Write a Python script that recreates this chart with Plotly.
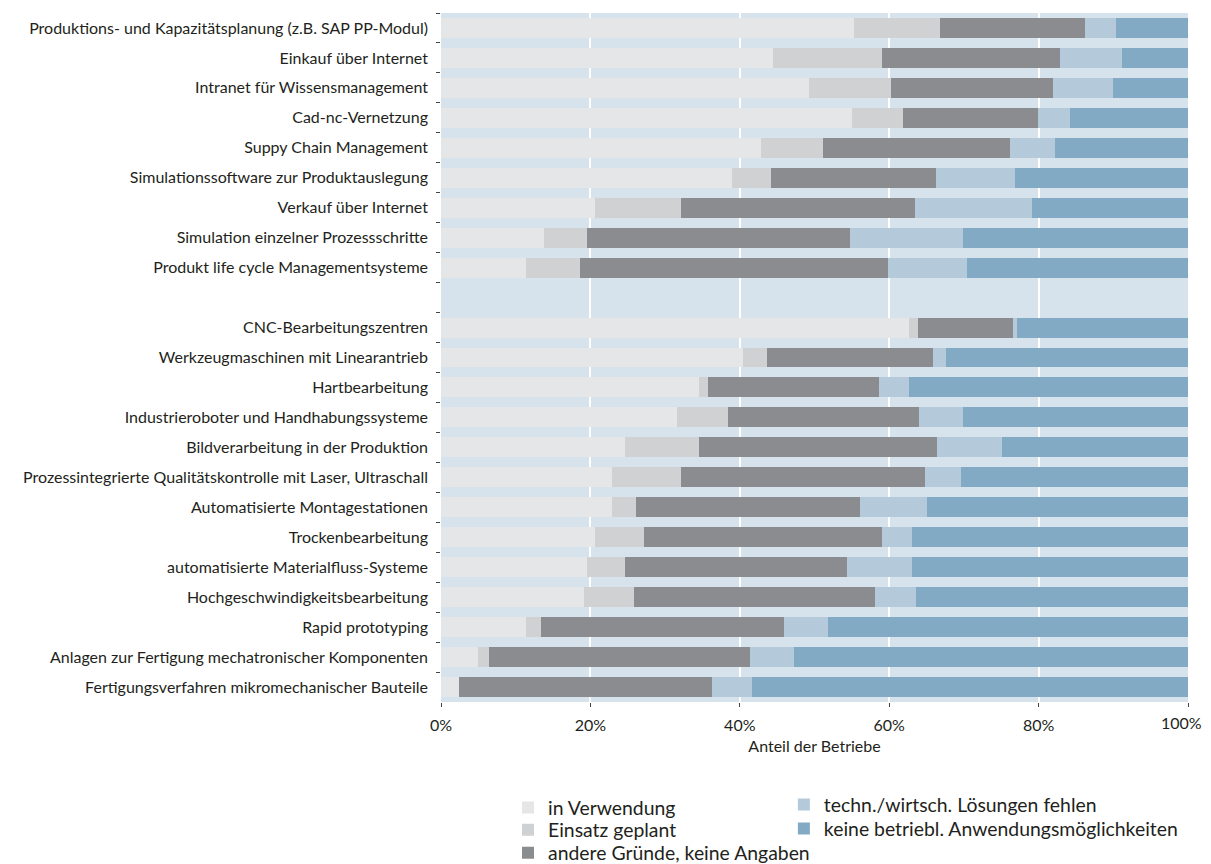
import plotly.graph_objects as go

categories = [
    "Produktions- und Kapazitätsplanung (z.B. SAP PP-Modul)",
    "Einkauf über Internet",
    "Intranet für Wissensmanagement",
    "Cad-nc-Vernetzung",
    "Suppy Chain Management",
    "Simulationssoftware zur Produktauslegung",
    "Verkauf über Internet",
    "Simulation einzelner Prozessschritte",
    "Produkt life cycle Managementsysteme",
    " ",
    "CNC-Bearbeitungszentren",
    "Werkzeugmaschinen mit Linearantrieb",
    "Hartbearbeitung",
    "Industrieroboter und Handhabungssysteme",
    "Bildverarbeitung in der Produktion",
    "Prozessintegrierte Qualitätskontrolle mit Laser, Ultraschall",
    "Automatisierte Montagestationen",
    "Trockenbearbeitung",
    "automatisierte Materialfluss-Systeme",
    "Hochgeschwindigkeitsbearbeitung",
    "Rapid prototyping",
    "Anlagen zur Fertigung mechatronischer Komponenten",
    "Fertigungsverfahren mikromechanischer Bauteile",
]

in_verwendung = [55.3, 44.4, 49.2, 55.0, 42.9, 39.0, 20.6, 13.8, 11.4, None,
                 62.6, 40.4, 34.6, 31.6, 24.6, 22.9, 22.9, 20.6, 19.6, 19.2, 11.4, 4.9, 2.4]
einsatz_geplant = [11.5, 14.7, 11.0, 6.9, 8.3, 5.2, 11.5, 5.8, 7.2, None,
                   1.3, 3.2, 1.2, 6.8, 10.0, 9.2, 3.2, 6.6, 5.0, 6.6, 2.0, 1.5, 0.0]
andere_gruende = [19.4, 23.7, 21.7, 18.0, 25.0, 22.0, 31.3, 35.1, 41.3, None,
                  12.7, 22.3, 22.9, 25.6, 31.8, 32.7, 30.0, 31.9, 29.7, 32.3, 32.5, 34.9, 33.9]
loesungen_fehlen = [4.1, 8.3, 8.0, 4.3, 6.0, 10.6, 15.7, 15.2, 10.5, None,
                    0.5, 1.7, 4.0, 5.9, 8.7, 4.8, 8.9, 3.9, 8.7, 5.5, 5.9, 6.0, 5.3]
keine_anwendung = [9.7, 8.9, 10.1, 15.8, 17.8, 23.2, 20.9, 30.1, 29.6, None,
                   22.9, 32.4, 37.3, 30.1, 24.9, 30.4, 35.0, 37.0, 37.0, 36.4, 48.2, 52.7, 58.4]

x_ticks = [0, 20, 40, 60, 80, 100]
x_ticklabels = ["0%", "20%", "40%", "60%", "80%", "100%"]

series_names = [
    "in Verwendung",
    "Einsatz geplant",
    "andere Gründe, keine Angaben",
    "techn./wirtsch. Lösungen fehlen",
    "keine betriebl. Anwendungsmöglichkeiten",
]
series_values = [in_verwendung, einsatz_geplant, andere_gruende,
                 loesungen_fehlen, keine_anwendung]
series_colors = ["#e5e6e8", "#d0d1d3", "#8b8c90", "#b4c9da", "#82aac4"]

# legend placement (paper coords): two columns
legend_pos = [(0.0897, -0.1538), (0.0897, -0.1858), (0.0897, -0.2192),
              (0.459, -0.1495), (0.459, -0.1843)]

FONT = "Lato, 'Open Sans', sans-serif"
TXT = "#231f20"

fig = go.Figure()
legend_ids = ["legend", "legend2", "legend3", "legend4", "legend5"]
for name, vals, color, lg in zip(series_names, series_values, series_colors, legend_ids):
    fig.add_trace(go.Bar(
        y=categories, x=vals, name=name, orientation="h",
        marker=dict(color=color, line=dict(width=0)),
        legend=lg, hoverinfo="x+y+name",
    ))

layout_legends = {}
for lg, (lx, ly) in zip(legend_ids, legend_pos):
    layout_legends[lg] = dict(
        x=lx, xanchor="left", y=ly, yanchor="middle",
        orientation="v", font=dict(size=19.4), bgcolor="rgba(0,0,0,0)",
        itemwidth=30,
    )

# axis tick labels; the last one is placed as an annotation nudged left so it
# stays inside the visible window edge
axis_ticktext = x_ticklabels[:-1] + [""]

fig.update_layout(
    barmode="stack",
    bargap=0.333,
    width=1203, height=856,
    margin=dict(l=433, r=23, t=5, b=162, autoexpand=False),
    plot_bgcolor="#d6e2ec",
    paper_bgcolor="white",
    font=dict(family=FONT, color=TXT, size=16),
    xaxis=dict(
        range=[0, 100], tickvals=x_ticks, ticktext=axis_ticktext,
        showgrid=True, gridcolor="white", gridwidth=2,
        ticks="outside", ticklen=4, tickcolor="#444", tickwidth=1,
        tickfont=dict(size=16), zeroline=False, showline=False,
        ticklabelstandoff=5,
        title=dict(text="Anteil der Betriebe", font=dict(size=16), standoff=7),
        automargin=False,
    ),
    yaxis=dict(
        categoryorder="array", categoryarray=categories, autorange="reversed",
        tickson="boundaries", ticks="outside", ticklen=4, tickcolor="#444",
        showgrid=False, zeroline=False, showline=False,
        tickfont=dict(size=16), ticklabelstandoff=12, automargin=False,
    ),
    annotations=[dict(
        x=x_ticks[-1], xref="x", y=0, yref="paper",
        text=x_ticklabels[-1], showarrow=False,
        xanchor="center", yanchor="middle", xshift=-7, yshift=-20,
        font=dict(family=FONT, size=16, color=TXT),
    )],
    showlegend=True,
    **layout_legends,
)

fig.write_html("out.html")
